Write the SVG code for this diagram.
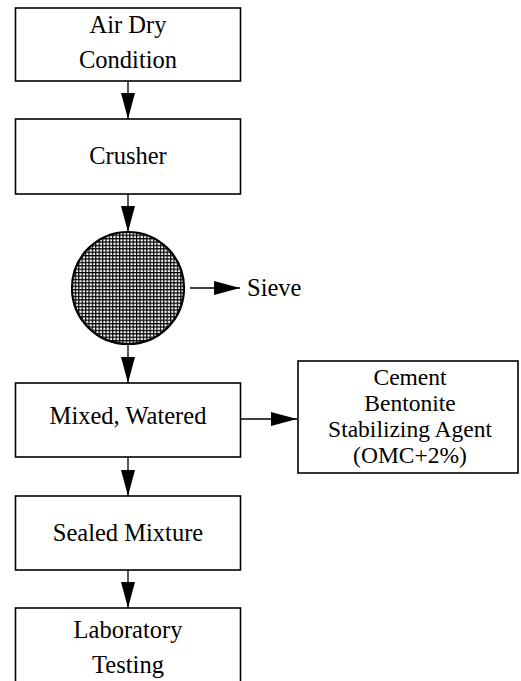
<svg xmlns="http://www.w3.org/2000/svg" width="521" height="681" viewBox="0 0 521 681">
<style>
.box{fill:#fff;stroke:#000;stroke-width:1.6}
.t{font-family:"Liberation Serif","Times New Roman",serif;font-size:24.5px;fill:#000;text-anchor:middle}
.r{font-size:23.5px}
.c{stroke:#000;stroke-width:1.3;fill:none}
</style>
<defs>
<marker id="ah" viewBox="0 0 26 14" refX="26" refY="7" markerWidth="26" markerHeight="14" markerUnits="userSpaceOnUse" orient="auto">
<path d="M0,0 L26,7 L0,14 Z" fill="#000"/>
</marker>
<pattern id="mesh" width="3.4" height="3.4" patternUnits="userSpaceOnUse">
<rect width="3.4" height="3.4" fill="#fff"/>
<path d="M0,0.6 H3.4 M0.6,0 V3.4" stroke="#000" stroke-width="1.2"/>
</pattern>
</defs>
<rect width="521" height="681" fill="#fff"/>
<g id="connectors">
<line class="c" x1="128" y1="81" x2="128" y2="119" marker-end="url(#ah)"/>
<line class="c" x1="128" y1="194" x2="128" y2="232" marker-end="url(#ah)"/>
<line class="c" x1="190" y1="288" x2="240" y2="288" marker-end="url(#ah)"/>
<line class="c" x1="128" y1="344" x2="128" y2="383" marker-end="url(#ah)"/>
<line class="c" x1="241" y1="419" x2="297" y2="419" marker-end="url(#ah)"/>
<line class="c" x1="128" y1="457" x2="128" y2="496" marker-end="url(#ah)"/>
<line class="c" x1="128" y1="570" x2="128" y2="608" marker-end="url(#ah)"/>
</g>
<g id="air-dry">
<rect class="box" x="15.5" y="8" width="225" height="73"/>
<text class="t" x="128" y="33">Air Dry</text>
<text class="t" x="128" y="68">Condition</text>
</g>
<g id="crusher">
<rect class="box" x="15.5" y="119" width="225" height="75"/>
<text class="t" x="128" y="164">Crusher</text>
</g>
<g id="sieve-disc">
<circle cx="128" cy="288" r="56" fill="url(#mesh)" stroke="#000" stroke-width="2.2"/>
</g>
<g id="sieve">
<text class="t" x="247" y="296" style="text-anchor:start">Sieve</text>
</g>
<g id="mixed">
<rect class="box" x="15.5" y="383" width="225" height="74"/>
<text class="t" x="128" y="424">Mixed, Watered</text>
</g>
<g id="additives">
<rect class="box" x="298" y="361" width="220" height="112"/>
<text class="t r" x="410" y="385">Cement</text>
<text class="t r" x="410" y="411">Bentonite</text>
<text class="t r" x="410" y="437">Stabilizing Agent</text>
<text class="t r" x="410" y="463">(OMC+2%)</text>
</g>
<g id="sealed">
<rect class="box" x="15.5" y="496" width="225" height="74"/>
<text class="t" x="128" y="541">Sealed Mixture</text>
</g>
<g id="lab">
<rect class="box" x="15.5" y="608" width="225" height="90"/>
<text class="t" x="128" y="638">Laboratory</text>
<text class="t" x="128" y="673">Testing</text>
</g>
</svg>
